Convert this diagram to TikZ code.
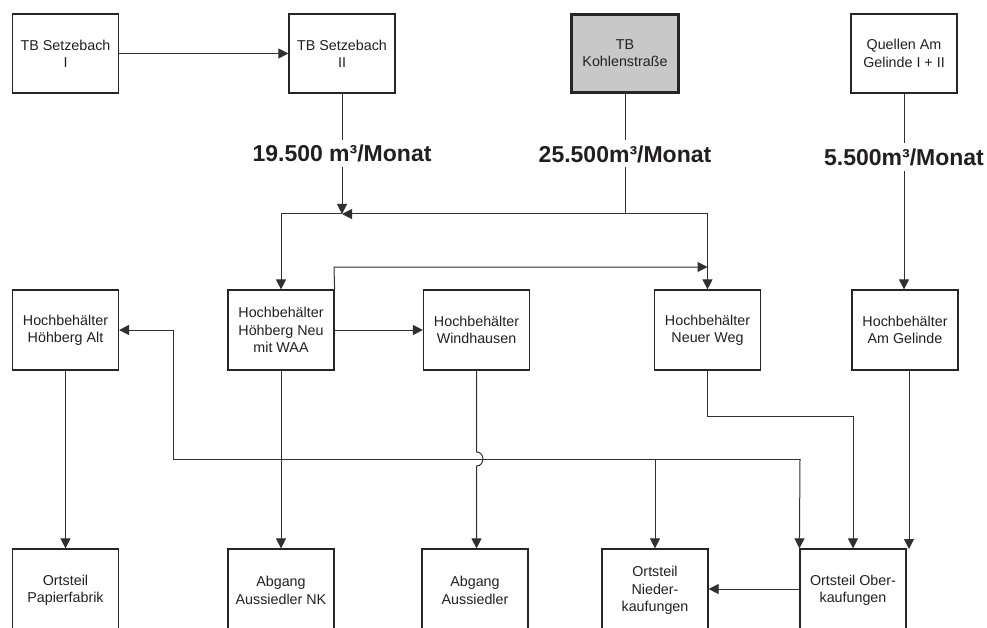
\documentclass[tikz,border=0pt]{standalone}
\usepackage{fontspec}
\setmainfont{Liberation Sans}
\usetikzlibrary{arrows.meta,calc}
\definecolor{boxc}{HTML}{262626}
\definecolor{linec}{HTML}{303030}
\definecolor{txt}{HTML}{231F20}
\definecolor{grayfill}{HTML}{C8C8C9}
\begin{document}
\begin{tikzpicture}[x=1pt,y=-1pt,
  box/.style={draw=boxc, line width=1.2pt, minimum width=106pt, minimum height=79pt,
    inner sep=0pt, align=center, font=\fontsize{14.3}{17.3}\selectfont, text=txt},
  conn/.style={draw=linec, line width=1pt},
  arr/.style={conn, -{Triangle[length=10pt,width=10pt]}},
  lbl/.style={fill=white, font=\bfseries\fontsize{23}{26}\selectfont, text=txt,
    inner xsep=2pt, inner ysep=5pt}]
\useasboundingbox (0,0) rectangle (987,628);
% top row
\node[box] (s1) at (65.5,53.5) {TB Setzebach\\I};
\node[box] (s2) at (342,53.5) {TB Setzebach\\II};
\node[box, fill=grayfill, line width=2.6pt, minimum width=107pt, minimum height=78pt] (kb) at (625,53.5) {TB\\Kohlenstraße};
\node[box] (q) at (904,53.5) {Quellen Am\\Gelinde I + II};
% middle row
\node[box, minimum height=80pt] (alt) at (65.5,330) {Hochbehälter\\Höhberg Alt};
\node[box, minimum height=80pt] (neu) at (281,330) {Hochbehälter\\Höhberg Neu\\mit WAA};
\node[box, minimum height=80pt] (wh) at (476.5,330) {Hochbehälter\\Windhausen};
\node[box, minimum height=80pt] (nw) at (707.5,330) {Hochbehälter\\Neuer Weg};
\node[box, minimum height=80pt] (ag) at (905,330) {Hochbehälter\\Am Gelinde};
% bottom row
\node[box, minimum height=83pt] (pap) at (65.5,590.5) {Ortsteil\\Papierfabrik};
\node[box, minimum height=83pt] (nk) at (281,590.5) {Abgang\\Aussiedler NK};
\node[box, minimum height=83pt] (aus) at (475,590.5) {Abgang\\Aussiedler};
\node[box, minimum height=83pt] (nied) at (655,590.5) {Ortsteil\\Nieder-\\kaufungen};
\node[box, minimum height=83pt] (ober) at (853,590.5) {Ortsteil Ober-\\kaufungen};
% junction coordinates
\coordinate (j1) at (342,214);
\coordinate (j2) at (625,214);
\coordinate (j3) at (281,214);
\coordinate (j4) at (707.5,214);
\coordinate (n1) at (334,267);
\coordinate (n2) at (707.5,267);
\coordinate (w1) at (476.5,452);
\coordinate (w2) at (476.5,466);
\coordinate (r1) at (707.5,416);
\coordinate (r2) at (853,416);
\coordinate (g1) at (909,370);
\coordinate (g2) at (909,549);
\coordinate (h1) at (800,459);
\coordinate (h2) at (655,459);
\coordinate (h3) at (173,459);
\coordinate (h4) at (173,330);
% connectors
\draw[arr] (s1) -- (s2);
\draw[arr] (s2.south) -- node[lbl] {19.500 m³/Monat} (j1);
\draw[conn] (kb.south) -- node[lbl] {25.500m³/Monat} (j2);
\draw[arr] (j2) -- (j1);
\draw[arr] (j2) -- (j4) -- (nw.north);
\draw[arr] (j1) -- (j3) -- (neu.north);
\draw[arr] (neu.north east) -- (n1) -- (n2);
\draw[arr] (q.south) -- (q.south |- ag.north);
\node[lbl] (ql) at (904,157) {5.500m³/Monat};
\draw[arr] (alt) -- (pap);
\draw[arr] (neu) -- (wh);
\draw[arr] (neu) -- (nk);
\draw[arr] (wh.south -| w1) -- (w1) .. controls (485,452) and (485,466) .. (w2) -- (w2 |- aus.north);
\draw[arr] (nw.south) -- (r1) -- (r2) -- (ober.north);
\draw[arr] (g1) -- (g2);
\draw[arr] (h1) -- (h3) -- (h4) -- (alt.east);
\draw[arr] (h1) -- (ober.north west);
\draw[arr] (h2) -- (nied.north);
\draw[arr] (ober.west |- 0,589) -- (nied.east |- 0,589);
\end{tikzpicture}
\end{document}
